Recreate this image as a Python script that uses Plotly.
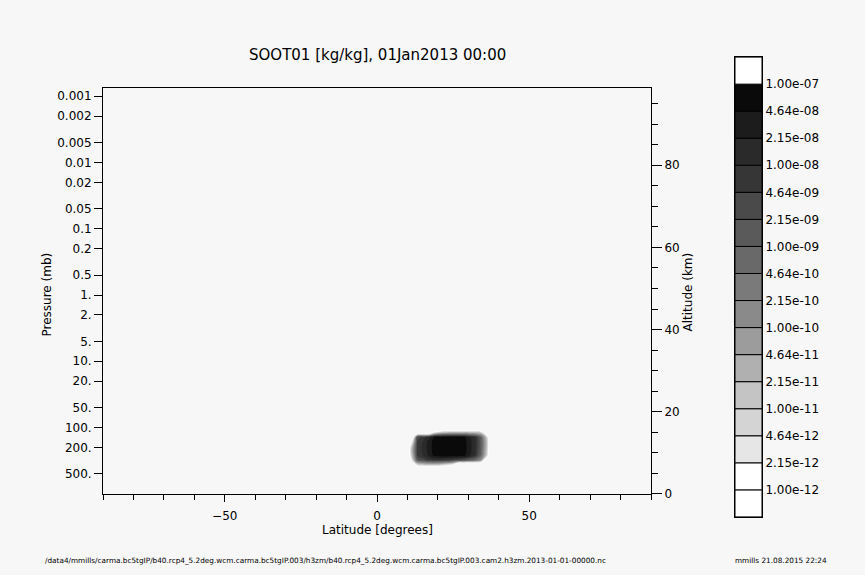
import numpy as np
import plotly.graph_objects as go

W = 865
H_REF = 575      # reference picture height (layout positions are read from it)
H = 583          # figure height; the captured page comes out slightly compressed vertically

title_text = "SOOT01 [kg/kg], 01Jan2013 00:00"
footer_path = ("/data4/mmills/carma.bc5tgIP/b40.rcp4_5.2deg.wcm.carma.bc5tgIP.003/h3zm/"
               "b40.rcp4_5.2deg.wcm.carma.bc5tgIP.003.cam2.h3zm.2013-01-01-00000.nc")
footer_stamp = "mmills 21.08.2015 22:24"

# ---- data: zonal-mean soot mixing ratio (kg/kg) on a lat / pressure grid ----
lat = [9.47, 11.37, 13.26, 15.16, 17.05, 18.95, 20.84, 22.74,
       24.63, 26.53, 28.42, 30.32, 32.21, 34.11, 36.00, 37.89]
pres = [100, 118, 139, 163, 192, 225, 264, 310, 364, 428]
soot = [
    [0, 0, 0, 0, 0, 0, 0, 0, 0, 0, 0, 0, 0, 0, 0, 0],
    [0, 0, 0, 0, 0, 2e-12, 8e-12, 1.5e-11, 2e-11, 2e-11, 2e-11, 2e-11, 1.5e-11, 8e-12, 0, 0],
    [0, 0, 3e-9, 6e-9, 1.5e-8, 5.5e-8, 6.5e-8, 7e-8, 7e-8, 7e-8, 6e-8, 2.5e-8, 1e-8, 1e-9, 1e-11, 0],
    [0, 1e-12, 5e-9, 1.1e-8, 3e-8, 6.5e-8, 8e-8, 8.5e-8, 8.5e-8, 8e-8, 7e-8, 3e-8, 1.2e-8, 1.5e-9, 2e-11, 0],
    [0, 1e-11, 6e-9, 1.2e-8, 3e-8, 7e-8, 9e-8, 9.5e-8, 9.5e-8, 9e-8, 7.5e-8, 3e-8, 1.2e-8, 1.5e-9, 2e-11, 0],
    [0, 2e-11, 6e-9, 1.2e-8, 3e-8, 7e-8, 9e-8, 9.5e-8, 9.5e-8, 9e-8, 7e-8, 3e-8, 1.1e-8, 1.2e-9, 1.5e-11, 0],
    [0, 1e-11, 5e-9, 1e-8, 2.5e-8, 6e-8, 7.5e-8, 8e-8, 8e-8, 7.5e-8, 6e-8, 2.5e-8, 9e-9, 8e-10, 1e-11, 0],
    [0, 2e-12, 1.5e-9, 3e-9, 6e-9, 8e-9, 8e-9, 6e-9, 4e-9, 3e-9, 2e-9, 1e-9, 5e-10, 1e-10, 0, 0],
    [0, 0, 5e-12, 1e-11, 1.5e-11, 1.5e-11, 1e-11, 5e-12, 2e-12, 0, 0, 0, 0, 0, 0, 0],
    [0, 0, 0, 0, 0, 0, 0, 0, 0, 0, 0, 0, 0, 0, 0, 0],
]

# contour levels (kg/kg)
levels = [1.00e-12, 2.15e-12, 4.64e-12, 1.00e-11, 2.15e-11, 4.64e-11,
          1.00e-10, 2.15e-10, 4.64e-10, 1.00e-09, 2.15e-09, 4.64e-09,
          1.00e-08, 2.15e-08, 4.64e-08, 1.00e-07]

# axis ticks
p_ticks = [0.001, 0.002, 0.005, 0.01, 0.02, 0.05, 0.1, 0.2, 0.5,
           1, 2, 5, 10, 20, 50, 100, 200, 500]
p_ticktext = ["0.001", "0.002", "0.005", "0.01", "0.02", "0.05", "0.1", "0.2", "0.5",
              "1.", "2.", "5.", "10.", "20.", "50.", "100.", "200.", "500."]
p_bottom, p_top = 1000.0, 7.57e-4
alt_top = 98.78

# ---- styles ----
BG = "#f7f7f7"
FONT = "DejaVu Sans"
# colours for regions from below lowest level up to above highest level
box_colors = ["#ffffff", "#ffffff", "#e6e6e6", "#d4d4d4", "#c4c4c4", "#b0b0b0",
              "#9c9c9c", "#8a8a8a", "#7a7a7a", "#696969", "#5a5a5a", "#4a4a4a",
              "#363636", "#2a2a2a", "#1c1c1c", "#0a0a0a", "#ffffff"]
region_colors = ["rgba(255,255,255,0)"] + box_colors[1:]

n = len(region_colors)
cscale = []
for j, c in enumerate(region_colors):
    lo = max(0.0, (j - 0.5) / (n - 1))
    hi = min(1.0, (j + 0.5) / (n - 1))
    cscale.append([lo, c])
    cscale.append([hi, c])

zlog = np.log10(np.maximum(np.array(soot, dtype=float), 1e-14))
lstart = float(np.log10(levels[0]))
lend = float(np.log10(levels[-1]))
lsize = (lend - lstart) / (len(levels) - 1)


def px(xp):
    return xp / W


def py(yp):
    return 1 - yp / H_REF


fig = go.Figure()

fig.add_trace(go.Contour(
    x=lat, y=pres, z=zlog,
    contours=dict(start=lstart, end=lend, size=lsize, coloring="fill", showlines=False),
    line=dict(width=0),
    colorscale=cscale, showscale=False, hoverinfo="skip",
    xaxis="x", yaxis="y",
))

# empty trace to activate altitude axis
fig.add_trace(go.Scatter(x=[], y=[], xaxis="x", yaxis="y2", showlegend=False))

# colour key as stacked boxes
nb = len(box_colors)
fig.add_trace(go.Bar(
    x=[0] * nb, y=[1] * nb, base=list(range(nb)), width=1,
    marker=dict(color=box_colors, line=dict(color="black", width=1)),
    xaxis="x3", yaxis="y3", showlegend=False, hoverinfo="skip",
))

tickfont = dict(family=FONT, size=12, color="black")

fig.update_layout(
    width=W, height=H, autosize=False,
    margin=dict(l=0, r=0, t=0, b=0),
    paper_bgcolor=BG, plot_bgcolor=BG,
    showlegend=False,
    xaxis=dict(
        domain=[px(103), px(651)], range=[-90, 90], anchor="y",
        tickmode="linear", tick0=0, dtick=50,
        ticks="outside", ticklen=7, tickcolor="black", ticklabelstandoff=4,
        minor=dict(dtick=10, tick0=-90, ticks="outside", ticklen=5, tickcolor="black"),
        showline=True, linecolor="black", linewidth=1, mirror=True,
        showgrid=False, zeroline=False, tickfont=tickfont,
    ),
    yaxis=dict(
        domain=[py(493), py(88)], type="log",
        range=[np.log10(p_bottom), np.log10(p_top)], anchor="x",
        tickmode="array", tickvals=p_ticks, ticktext=p_ticktext,
        ticks="outside", ticklen=8, tickcolor="black",
        showline=True, linecolor="black", linewidth=1, mirror=True,
        showgrid=False, zeroline=False, tickfont=tickfont,
    ),
    yaxis2=dict(
        overlaying="y", side="right", anchor="x", range=[0, alt_top],
        tickmode="linear", tick0=0, dtick=20,
        ticks="outside", ticklen=10, tickcolor="black",
        minor=dict(dtick=5, ticks="outside", ticklen=6, tickcolor="black"),
        showline=False, showgrid=False, zeroline=False, tickfont=tickfont,
    ),
    xaxis3=dict(
        domain=[px(735), px(762)], range=[-0.5, 0.5], anchor="y3",
        showticklabels=False, ticks="", showgrid=False, zeroline=False,
        showline=True, linecolor="black", mirror=True,
    ),
    yaxis3=dict(
        domain=[py(516), py(57)], range=[0, nb], anchor="x3", side="right",
        tickmode="array", tickvals=list(range(1, len(levels) + 1)),
        ticktext=[f"{v:.2e}" for v in levels],
        ticks="", showgrid=False, zeroline=False,
        showline=True, linecolor="black", mirror=True, tickfont=tickfont,
    ),
)

annots = [
    dict(text=title_text, x=px(377), y=py(55), font=dict(family=FONT, size=15, color="black")),
    dict(text="Latitude [degrees]", x=px(377), y=py(529), font=dict(family=FONT, size=12, color="black")),
    dict(text="Pressure (mb)", x=px(47), y=py(294), textangle=-90, font=dict(family=FONT, size=12, color="black")),
    dict(text="Altitude (km)", x=px(688), y=py(292), textangle=-90, font=dict(family=FONT, size=12, color="black")),
]
for a in annots:
    fig.add_annotation(xref="paper", yref="paper", showarrow=False,
                       xanchor="center", yanchor="middle", **a)

fig.add_annotation(text=footer_path, xref="paper", yref="paper", x=px(43), y=py(560),
                   xanchor="left", yanchor="middle", showarrow=False,
                   font=dict(family=FONT, size=7.3, color="black"))
fig.add_annotation(text=footer_stamp, xref="paper", yref="paper", x=px(733), y=py(560),
                   xanchor="left", yanchor="middle", showarrow=False,
                   font=dict(family=FONT, size=7.3, color="black"))

page_js = ("document.body.style.margin='0';"
           "document.body.style.background='" + BG + "';"
           "document.documentElement.style.background='" + BG + "';"
           "document.documentElement.style.overflow='hidden';")
fig.write_html("out.html", post_script=page_js,
               config={"responsive": False, "displayModeBar": False, "staticPlot": True})
